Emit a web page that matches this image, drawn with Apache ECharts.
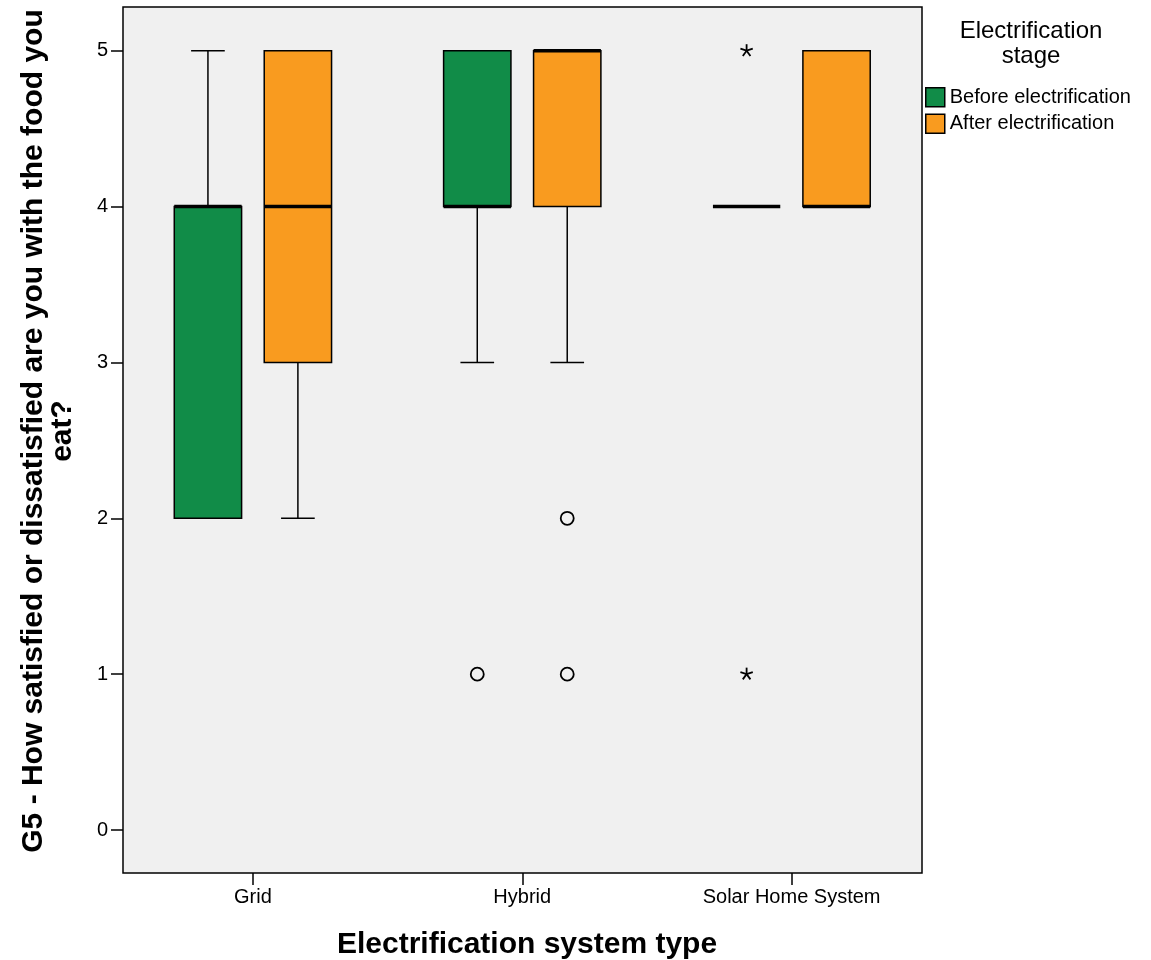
<!DOCTYPE html>
<html><head><meta charset="utf-8">
<script src="https://cdn.jsdelivr.net/npm/echarts@6/dist/echarts.min.js"></script>
<style>html,body{margin:0;padding:0;background:#fff}#c{width:1151px;height:960px}</style>
</head><body><div id="c"></div>
<script>
const categories = ['Grid', 'Hybrid', 'Solar Home System'];
const seriesNames = ['Before electrification', 'After electrification'];
const yTicks = [0, 1, 2, 3, 4, 5];
// [min, Q1, median, Q3, max] per category
const beforeBoxes = [[2, 2, 4, 4, 5], [3, 4, 4, 5, 5], [4, 4, 4, 4, 4]];
const afterBoxes  = [[2, 3, 4, 5, 5], [3, 4, 5, 5, 5], [4, 4, 4, 5, 5]];
// [categoryIndex, value]
const beforeOutliers = [[1, 1]];
const afterOutliers  = [[1, 2], [1, 1]];
const beforeExtremes = [[2, 5], [2, 1]];
const afterExtremes  = [];

const GREEN = '#118c48';
const ORANGE = '#f99b1f';
const FONT = '"Liberation Sans", Arial, sans-serif';
const OFFSET = 0.167;   // fraction of band
const BOX_W = 0.25;     // fraction of band

function boxRenderer(offset, color) {
  return function (params, api) {
    const ci = api.value(0);
    const v = [1, 2, 3, 4, 5].map(i => api.value(i));
    const band = api.size([1, 0])[0];
    const cx = api.coord([ci, v[2]])[0] + offset * band;
    const Y = val => api.coord([ci, val])[1];
    const w = BOX_W * band, half = w / 2, cap = w / 4;
    const ls = { stroke: '#000', lineWidth: 1.5 };
    const ch = [];
    if (v[4] > v[3]) {
      ch.push({ type: 'line', shape: { x1: cx, y1: Y(v[3]), x2: cx, y2: Y(v[4]) }, style: ls });
      ch.push({ type: 'line', shape: { x1: cx - cap, y1: Y(v[4]), x2: cx + cap, y2: Y(v[4]) }, style: ls });
    }
    if (v[0] < v[1]) {
      ch.push({ type: 'line', shape: { x1: cx, y1: Y(v[1]), x2: cx, y2: Y(v[0]) }, style: ls });
      ch.push({ type: 'line', shape: { x1: cx - cap, y1: Y(v[0]), x2: cx + cap, y2: Y(v[0]) }, style: ls });
    }
    if (v[3] > v[1]) {
      ch.push({ type: 'rect', shape: { x: cx - half, y: Y(v[3]), width: w, height: Y(v[1]) - Y(v[3]) },
        style: { fill: color, stroke: '#000', lineWidth: 1.5 } });
    }
    ch.push({ type: 'line', shape: { x1: cx - half, y1: Y(v[2]), x2: cx + half, y2: Y(v[2]) },
      style: { stroke: '#000', lineWidth: 3.5 } });
    return { type: 'group', children: ch };
  };
}
function outlierRenderer(offset) {
  return function (params, api) {
    const band = api.size([1, 0])[0];
    const p = api.coord([api.value(0), api.value(1)]);
    return { type: 'circle', shape: { cx: p[0] + offset * band, cy: p[1], r: 6.5 },
      style: { fill: 'none', stroke: '#000', lineWidth: 1.8 } };
  };
}
function extremeRenderer(offset) {
  return function (params, api) {
    const band = api.size([1, 0])[0];
    const p = api.coord([api.value(0), api.value(1)]);
    const cx = p[0] + offset * band, cy = p[1];
    const r = 6.5, ch = [];
    for (let k = 0; k < 5; k++) {
      const a = k * 2 * Math.PI / 5;
      ch.push({ type: 'line', shape: { x1: cx, y1: cy, x2: cx + r * Math.sin(a), y2: cy - r * Math.cos(a) },
        style: { stroke: '#000', lineWidth: 1.8 } });
    }
    return { type: 'group', children: ch };
  };
}

const chart = echarts.init(document.getElementById('c'));
const option = {
  animation: false,
  backgroundColor: '#fff',
  grid: [
    { left: 123, right: 229, top: 7, bottom: 87, show: true, backgroundColor: '#f0f0f0', borderColor: '#000', borderWidth: 1.5 },
    { left: 118.25, right: 224.75, top: 7, bottom: 87 },
    { left: 123, right: 229, top: 50.7, bottom: 130 }
  ],
  xAxis: [
    { gridIndex: 0, type: 'value', show: false },
    { gridIndex: 1, type: 'category', data: categories, position: 'bottom',
      axisLine: { show: false, onZero: false },
      axisTick: { show: true, alignWithLabel: true, length: 12, lineStyle: { color: '#000', width: 1.5 } },
      axisLabel: { color: '#000', fontSize: 20, fontFamily: FONT, margin: 14 },
      splitLine: { show: false } },
    { gridIndex: 2, type: 'value', show: false }
  ],
  yAxis: [
    { gridIndex: 0, type: 'value', show: false },
    { gridIndex: 1, type: 'value', min: -0.2759, max: 5.2804, show: false },
    { gridIndex: 2, type: 'value', min: 0, max: 5, interval: 1,
      axisLine: { show: false },
      axisTick: { show: true, length: 12, lineStyle: { color: '#000', width: 1.5 } },
      axisLabel: { color: '#000', fontSize: 20, fontFamily: FONT, margin: 15 },
      splitLine: { show: false } }
  ],
  legend: {
    orient: 'vertical', left: 920, top: 82, itemWidth: 19, itemHeight: 19, itemGap: 6,
    textStyle: { color: '#000', fontSize: 20, fontFamily: FONT },
    data: [
      { name: seriesNames[0], icon: 'rect', itemStyle: { color: GREEN, borderColor: '#000', borderWidth: 1.5 } },
      { name: seriesNames[1], icon: 'rect', itemStyle: { color: ORANGE, borderColor: '#000', borderWidth: 1.5 } }
    ]
  },
  graphic: [
    { type: 'text', x: 1031, y: 44, style: { text: 'Electrification\nstage', fill: '#000',
      font: '24px ' + FONT, align: 'center', verticalAlign: 'middle', lineHeight: 25 } },
    { type: 'text', x: 527, y: 945, style: { text: 'Electrification system type', fill: '#000',
      font: 'bold 30px ' + FONT, align: 'center', verticalAlign: 'middle' } },
    { type: 'text', x: 48, y: 431, rotation: Math.PI / 2, style: {
      text: 'G5 - How satisfied or dissatisfied are you with the food you\neat?', fill: '#000',
      font: 'bold 30px ' + FONT, align: 'center', verticalAlign: 'middle', lineHeight: 29 } }
  ],
  series: [
    { name: seriesNames[0], type: 'custom', xAxisIndex: 1, yAxisIndex: 1, itemStyle: { color: GREEN },
      renderItem: boxRenderer(-OFFSET, GREEN), encode: { x: 0, y: [1, 2, 3, 4, 5] },
      data: beforeBoxes.map((b, i) => [i, ...b]) },
    { name: seriesNames[1], type: 'custom', xAxisIndex: 1, yAxisIndex: 1, itemStyle: { color: ORANGE },
      renderItem: boxRenderer(OFFSET, ORANGE), encode: { x: 0, y: [1, 2, 3, 4, 5] },
      data: afterBoxes.map((b, i) => [i, ...b]) },
    { name: 'before-outliers', type: 'custom', xAxisIndex: 1, yAxisIndex: 1,
      renderItem: outlierRenderer(-OFFSET), encode: { x: 0, y: 1 }, data: beforeOutliers },
    { name: 'after-outliers', type: 'custom', xAxisIndex: 1, yAxisIndex: 1,
      renderItem: outlierRenderer(OFFSET), encode: { x: 0, y: 1 }, data: afterOutliers },
    { name: 'before-extremes', type: 'custom', xAxisIndex: 1, yAxisIndex: 1,
      renderItem: extremeRenderer(-OFFSET), encode: { x: 0, y: 1 }, data: beforeExtremes },
    { name: 'after-extremes', type: 'custom', xAxisIndex: 1, yAxisIndex: 1,
      renderItem: extremeRenderer(OFFSET), encode: { x: 0, y: 1 }, data: afterExtremes }
  ]
};
chart.setOption(option);
</script>
</body></html>
